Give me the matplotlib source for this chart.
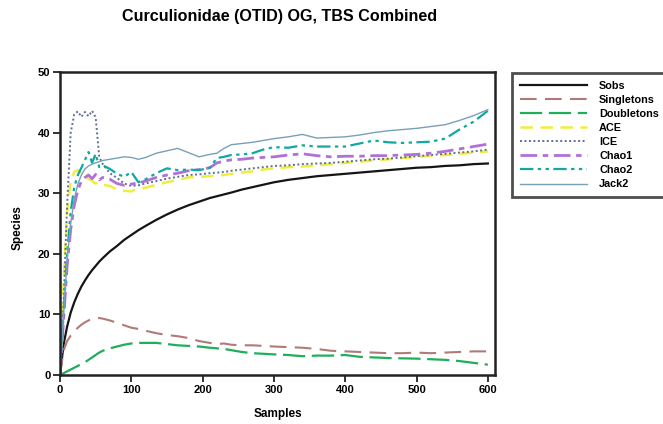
import matplotlib
matplotlib.use("Agg")
import matplotlib.pyplot as plt

plt.rcParams['font.family'] = ['Liberation Sans', 'DejaVu Sans']

samples = [0, 5, 10, 15, 20, 25, 30, 35, 40, 45, 50, 55, 60, 70, 80, 90, 100, 110, 120,
           135, 150, 165, 180, 195, 210, 220, 230, 240, 255, 270, 285, 300, 320, 340, 360,
           380, 400, 420, 440, 460, 480, 500, 520, 540, 560, 580, 600]

sobs = [0, 5, 8, 10.3, 12, 13.4, 14.6, 15.6, 16.5, 17.3, 18, 18.7, 19.3, 20.4, 21.3, 22.3,
        23.1, 23.9, 24.6, 25.6, 26.5, 27.3, 28, 28.6, 29.2, 29.5, 29.8, 30.1, 30.6, 31,
        31.4, 31.8, 32.2, 32.5, 32.8, 33, 33.2, 33.4, 33.6, 33.8, 34, 34.2, 34.3, 34.5,
        34.6, 34.8, 34.9]

singletons = [0, 4, 5.6, 6.5, 7.2, 7.8, 8.3, 8.7, 9.0, 9.3, 9.4, 9.4, 9.3, 9.0, 8.6, 8.2,
              7.8, 7.6, 7.3, 6.9, 6.6, 6.4, 6.1, 5.6, 5.3, 5.1, 5.2, 5.0, 4.9, 4.9, 4.8, 4.7,
              4.6, 4.5, 4.3, 4.0, 3.9, 3.8, 3.7, 3.6, 3.6, 3.7, 3.6, 3.7, 3.8, 3.9, 3.9]

doubletons = [0, 0.3, 0.6, 0.9, 1.2, 1.5, 1.8, 2.1, 2.5, 2.9, 3.3, 3.7, 4.0, 4.4, 4.7, 5.0,
              5.2, 5.3, 5.3, 5.3, 5.1, 4.9, 4.8, 4.7, 4.5, 4.4, 4.3, 4.1, 3.8, 3.6, 3.5, 3.4,
              3.3, 3.1, 3.2, 3.2, 3.3, 3.0, 2.9, 2.8, 2.75, 2.7, 2.6, 2.5, 2.3, 2.0, 1.7]

ace = [0, 15, 27, 32, 33.5, 33.8, 33.2, 32.6, 32.4, 32.0, 31.6, 31.8, 31.4, 31.2, 30.6, 30.4,
       30.3, 30.8, 30.9, 31.4, 31.8, 32.2, 32.6, 32.7, 32.8, 32.9, 33.0, 33.2, 33.4, 33.6,
       33.9, 34.1, 34.3, 34.4, 34.6, 34.8, 35.0, 35.2, 35.4, 35.6, 35.8, 36.0, 36.2, 36.3,
       36.5, 36.7, 36.9]

ice = [0, 12, 28, 40, 43, 43.5, 42.6, 43.4, 42.7, 43.6, 42.5, 36, 34.8, 33.3, 32.5, 31.6,
       31.2, 31.3, 31.6, 32, 32.4, 32.7, 33.0, 33.1, 33.3, 33.4, 33.5, 33.7, 33.9, 34.1,
       34.3, 34.5, 34.6, 34.8, 34.9, 35.0, 35.2, 35.4, 35.6, 35.7, 35.9, 36.1, 36.3, 36.5,
       36.7, 36.9, 37.2]

chao1 = [0, 9, 18, 24, 28, 30.5, 32, 32.6, 33.0, 32.4, 33.1, 32.2, 32.6, 32.3, 31.6, 31.3,
         31.5, 31.7, 32.0, 32.6, 33.0, 33.3, 33.7, 33.9, 34.2, 35.0, 35.3, 35.5, 35.6, 35.8,
         35.9, 36.0, 36.3, 36.5, 36.2, 36.0, 36.1, 36.1, 36.2, 36.2, 36.3, 36.4, 36.6, 36.9,
         37.3, 37.7, 38.1]

chao2 = [0, 10, 20, 27, 31, 33, 34.2, 35.5, 36.8, 35, 36.5, 34.3, 34.6, 34.0, 33.2, 32.7,
         33.5, 31.8, 32.3, 33.3, 34.1, 33.8, 33.9, 33.8, 34.2, 35.8, 36.0, 36.3, 36.4, 36.6,
         37.2, 37.6, 37.5, 37.9, 37.7, 37.7, 37.7, 38.2, 38.7, 38.4, 38.3, 38.4, 38.5, 39.0,
         40.5, 41.8, 43.6]

jack2 = [0, 10, 19, 25, 29, 31.5, 33, 34, 34.5, 34.8, 35, 35.2, 35.4, 35.6, 35.8, 36.0,
         35.9, 35.6, 35.9, 36.6, 37.0, 37.4, 36.7, 36.0, 36.4, 36.6, 37.4, 38.0, 38.2, 38.4,
         38.7, 39.0, 39.3, 39.7, 39.1, 39.2, 39.3, 39.6, 40.0, 40.3, 40.5, 40.7, 41.0, 41.3,
         42.0, 42.8, 43.8]

x_ticks = [0, 100, 200, 300, 400, 500, 600]
y_ticks = [0, 10, 20, 30, 40, 50]

W, H = 663, 424
fig = plt.figure(figsize=(W / 100, H / 100), dpi=100)
ax = fig.add_axes([60 / W, 1 - 375 / H, 435 / W, 303 / H])

ax.plot(samples, sobs, color='#151515', lw=1.6, label='Sobs')
ax.plot(samples, singletons, color='#b07a78', lw=1.5, dashes=(8, 4), label='Singletons')
ax.plot(samples, doubletons, color='#1fae5a', lw=1.6, dashes=(10, 3), label='Doubletons')
ax.plot(samples, ace, color='#eeee40', lw=1.8, dashes=(5, 3), label='ACE')
ax.plot(samples, ice, color='#5f6f90', lw=1.4, dashes=(1, 1.3), label='ICE')
ax.plot(samples, chao1, color='#b070d8', lw=2.0, dashes=(6, 2, 2, 2), label='Chao1')
ax.plot(samples, chao2, color='#10a8a0', lw=1.6, dashes=(6, 2, 1.5, 2, 1.5, 2), label='Chao2')
ax.plot(samples, jack2, color='#78a0b8', lw=1.0, label='Jack2')

ax.set_xlim(0, 610)
ax.set_ylim(0, 50)
ax.set_xticks(x_ticks)
ax.set_yticks(y_ticks)
ax.tick_params(direction='out', length=5, width=1.3, color='#222222', labelsize=8,
               pad=2)
for lab in ax.get_xticklabels() + ax.get_yticklabels():
    lab.set_fontweight('bold')
for s in ax.spines.values():
    s.set_linewidth(1.8)
    s.set_color('#222222')

fig.text(18 / W, 1 - 228 / H, 'Species', rotation=90, ha='center', va='center',
         fontsize=8.5, fontweight='bold')
fig.text(278 / W, 1 - 414 / H, 'Samples', ha='center', va='center',
         fontsize=8.5, fontweight='bold')
fig.text(280 / W, 1 - 16 / H, 'Curculionidae (OTID) OG, TBS Combined', ha='center',
         va='center', fontsize=11.6, fontweight='bold')

leg = fig.legend(loc='upper left', bbox_to_anchor=(512 / W, 1 - 73 / H), borderaxespad=0,
                 frameon=True, fancybox=False, handlelength=6.2, handletextpad=1.15,
                 labelspacing=0.38, borderpad=0.7, prop={'size': 7.8, 'weight': 'bold'})
leg.get_frame().set_edgecolor('#222222')
leg.get_frame().set_linewidth(2)

fig.savefig('out.png', dpi=100, facecolor='white')
